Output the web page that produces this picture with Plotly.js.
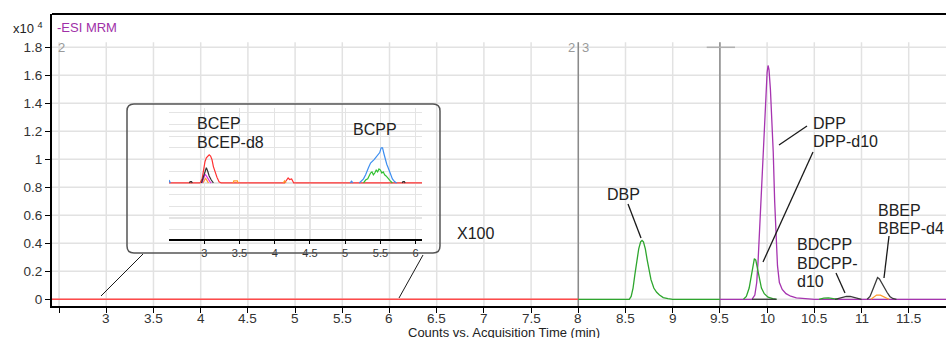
<!DOCTYPE html>
<html>
<head>
<meta charset="utf-8">
<script src="https://cdn.plot.ly/plotly-3.0.1.min.js"></script>
<style>html,body{margin:0;padding:0;background:#fff;}#chart{width:946px;height:338px;}</style>
</head>
<body>
<div id="chart"></div>
<script>
// ---------- main chromatogram data (time in min, counts x10^4) ----------
const redT = [2.425, 8.0];
const redY = [0, 0];

const greenT = [8.0, 8.54, 8.56, 8.58, 8.60, 8.62, 8.64, 8.66, 8.675, 8.69, 8.71, 8.73, 8.75, 8.77, 8.80, 8.83, 8.86, 8.90, 8.95, 9.0, 9.5, null,
  9.75, 9.78, 9.81, 9.83, 9.85, 9.865, 9.88, 9.90, 9.92, 9.94, 9.97, 10.01, 10.06, 10.10, null,
  10.55, 10.60, 10.65, 10.70, 10.75];
const greenY = [0, 0, 0.02, 0.08, 0.18, 0.28, 0.36, 0.41, 0.42, 0.41, 0.36, 0.28, 0.20, 0.14, 0.08, 0.05, 0.03, 0.012, 0.004, 0, 0, null,
  0, 0.02, 0.08, 0.16, 0.25, 0.29, 0.28, 0.22, 0.14, 0.08, 0.04, 0.015, 0.005, 0, null,
  0, 0.008, 0.01, 0.006, 0];

const purpleT = [9.5, 9.84, 9.87, 9.89, 9.905, 9.92, 9.94, 9.955, 9.97, 9.985, 10.0, 10.01, 10.02, 10.035, 10.05, 10.065, 10.08, 10.095, 10.11, 10.13, 10.16, 10.20, 10.25, 10.31, 10.40, 10.50, 11.895];
const purpleY = [0, 0, 0.03, 0.12, 0.28, 0.5, 0.8, 1.05, 1.25, 1.48, 1.62, 1.67, 1.64, 1.5, 1.32, 1.05, 0.7, 0.42, 0.24, 0.12, 0.07, 0.04, 0.022, 0.01, 0.005, 0, 0];

const blackT = [9.84, 10.10, null,
  10.72, 10.76, 10.80, 10.84, 10.88, 10.92, 10.96, 11.0, null,
  11.06, 11.09, 11.12, 11.15, 11.17, 11.19, 11.21, 11.24, 11.27, 11.30, 11.33, 11.37];
const blackY = [0, 0, null,
  0, 0.008, 0.015, 0.02, 0.02, 0.012, 0.004, 0, null,
  0, 0.02, 0.07, 0.13, 0.155, 0.145, 0.12, 0.09, 0.05, 0.02, 0.006, 0];

const orangeT = [11.10, 11.13, 11.16, 11.20, 11.23, 11.26, 11.29];
const orangeY = [0, 0.015, 0.03, 0.03, 0.02, 0.006, 0];

// ---------- inset (x100) data ----------
const inRedT = [2.5, 2.94, 2.97, 2.99, 3.01, 3.03, 3.05, 3.07, 3.09, 3.11, 3.13, 3.15, 3.18, 3.21, 3.24, 4.14, 4.17, 4.19, 4.21, 4.24, 4.27, 6.09];
const inRedY = [0, 0, 3.5, 11, 18, 21.5, 23, 24, 23, 20, 14, 10, 5, 1, 0, 0, 3, 4.3, 3, 3.5, 0, 0];
const inBlackT = [2.79, 2.80, 2.82, 2.83, null, 2.96, 2.99, 3.01, 3.03, 3.05, 3.07, 3.10, 3.13, null, 5.81, 5.82, 5.84, 5.85];
const inBlackY = [0, 1.2, 1.2, 0, null, 0, 5, 10, 13, 10, 6, 2.5, 0, null, 0, 1.2, 1.2, 0];
const inMagT = [2.97, 2.99, 3.01, 3.03, 3.05, 3.08, 3.10];
const inMagY = [0, 3.5, 7.5, 6, 3.5, 1.2, 0];
const inOrangeT = [2.98, 3.00, 3.02, 3.04, 3.06, null, 3.41, 3.42, 3.47, 3.48, null, 4.12, 4.14, 4.16];
const inOrangeY = [0, 2.5, 4, 2, 0, null, 0, 1.8, 1.8, 0, null, 0, 1.8, 0];
const inBlueT = [2.5, 2.52, null, 5.07, 5.09, 5.11, null, 5.20, 5.23, 5.26, 5.29, 5.31, 5.33, 5.36, 5.38, 5.41, 5.43, 5.45, 5.47, 5.49, 5.51, 5.53, 5.55, 5.57, 5.59, 5.61, 5.63, 5.65, 5.67, 5.70, 5.73];
const inBlueY = [2.5, 0, null, 0, 1.5, 0, null, 0, 1.8, 3.5, 7, 11, 13, 17, 18, 20, 21.5, 23, 24, 26, 30, 30, 25, 19, 16, 13, 10, 7, 3.5, 1.2, 0];
const inGreenT = [5.26, 5.29, 5.32, 5.34, 5.36, 5.38, 5.40, 5.42, 5.44, 5.46, 5.48, 5.50, 5.52, 5.54, 5.56, 5.58, 5.61, 5.64, 5.67];
const inGreenY = [0, 2.5, 3.5, 6, 8.5, 9.5, 7, 8.5, 11, 9.5, 12, 11, 8.5, 9.5, 7, 6, 3.5, 1.8, 0];

// ---------- ticks ----------
const xTickVals = [2.5, 3, 3.5, 4, 4.5, 5, 5.5, 6, 6.5, 7, 7.5, 8, 8.5, 9, 9.5, 10, 10.5, 11, 11.5];
const xTickText = ['', '3', '3.5', '4', '4.5', '5', '5.5', '6', '6.5', '7', '7.5', '8', '8.5', '9', '9.5', '10', '10.5', '11', '11.5'];
const yTickVals = [0, 0.2, 0.4, 0.6, 0.8, 1.0, 1.2, 1.4, 1.6, 1.8];
const yTickText = ['0', '0.2', '0.4', '0.6', '0.8', '1', '1.2', '1.4', '1.6', '1.8'];
const inTickVals = [3, 3.5, 4, 4.5, 5, 5.5, 6];
const inTickText = ['3', '3.5', '4', '4.5', '5', '5.5', '6'];
const segmentBounds = [8.0, 9.5];

// ---------- layout helpers ----------
const W = 946, H = 338, ML = 52, MT = 14, MB = 32;
const PW = W - ML, PH = H - MT - MB;
const px = x => (x - ML) / PW;
const py = y => (H - MB - y) / PH;
const FONT = 'Liberation Sans, Arial, sans-serif';
const TXT = '#222';

const shapes = [];
const annotations = [];

// grid (vertical lines stop short of top frame)
xTickVals.forEach(v => shapes.push({type:'line', xref:'x', yref:'y', x0:v, x1:v, y0:-0.05, y1:1.836, line:{color:'#e2e2e2', width:1.5}, layer:'below'}));
yTickVals.forEach(v => shapes.push({type:'line', xref:'paper', yref:'y', x0:0, x1:1, y0:v, y1:v, line:{color:'#e2e2e2', width:1.5}, layer:'below'}));
// segment separators
segmentBounds.forEach(v => shapes.push({type:'line', xref:'x', yref:'y', x0:v, x1:v, y0:-0.05, y1:1.836, line:{color:'#8a8a8a', width:1.5}, layer:'below'}));
shapes.push({type:'line', xref:'x', yref:'y', x0:9.36, x1:9.66, y0:1.8, y1:1.8, line:{color:'#b0b0b0', width:1.5}, layer:'below'});
// top frame
shapes.push({type:'line', xref:'paper', yref:'paper', x0:0, x1:1, y0:1, y1:1, line:{color:'#000', width:2}});

function seg(x0, y0, x1, y1, w) {
  shapes.push({type:'line', xref:'paper', yref:'paper', x0:px(x0), y0:py(y0), x1:px(x1), y1:py(y1), line:{color:'#1a1a1a', width:w || 1.3}});
}
// inset rounded box
(function(){
  const x0=127, y0=104, x1=440, y1=253, r=7;
  const P = (a,b) => px(a).toFixed(5)+','+py(b).toFixed(5);
  const path = 'M'+P(x0+r,y0)+' L'+P(x1-r,y0)+' Q'+P(x1,y0)+' '+P(x1,y0+r)+' L'+P(x1,y1-r)+' Q'+P(x1,y1)+' '+P(x1-r,y1)+
    ' L'+P(x0+r,y1)+' Q'+P(x0,y1)+' '+P(x0,y1-r)+' L'+P(x0,y0+r)+' Q'+P(x0,y0)+' '+P(x0+r,y0)+' Z';
  shapes.push({type:'path', xref:'paper', yref:'paper', path:path, line:{color:'#555', width:1.5}});
})();
// connectors to inset
seg(101, 296, 143, 254, 1);
seg(399, 298, 423, 255, 1);
// leader lines
seg(628, 204, 641, 238);      // DBP
seg(807, 126, 779, 145);      // DPP
seg(813, 152, 763, 262);      // DPP-d10
seg(836, 273, 845, 293);      // BDCPP
seg(889, 236, 884, 278);      // BBEP

function label(text, x, y, opt) {
  annotations.push(Object.assign({text:text, xref:'paper', yref:'paper', x:px(x), y:py(y), xanchor:'left', yanchor:'middle', showarrow:false,
    font:{family:FONT, size:16, color:TXT}}, opt || {}));
}
label('DBP', 605, 195);
label('DPP', 811, 123);
label('DPP-d10', 811, 141);
label('BDCPP', 795, 245);
label('BDCPP-', 795, 263);
label('d10', 795, 281);
label('BBEP', 876, 211);
label('BBEP-d4', 876, 229);
label('BCEP', 195, 124);
label('BCEP-d8', 195, 142);
label('BCPP', 351, 129);
label('X100', 455, 233);
label('-ESI MRM', 55, 28, {font:{family:FONT, size:13, color:'#a030a8'}});
label('x10 <sup>4</sup>', 11, 28, {font:{family:FONT, size:13, color:TXT}});
label('2', 56, 47, {font:{family:FONT, size:13, color:'#9a9a9a'}});
label('2', 566, 47, {font:{family:FONT, size:13, color:'#9a9a9a'}});
label('3', 580, 47, {font:{family:FONT, size:13, color:'#9a9a9a'}});
label('Counts vs. Acquisition Time (min)', 504, 332, {xanchor:'center', font:{family:FONT, size:13, color:TXT}});

// x tick labels placed close to the axis, positioned by the x scale
xTickVals.forEach((v, i) => {
  if (xTickText[i] === '') return;
  annotations.push({text:xTickText[i], xref:'x', yref:'paper', x:v, y:py(318), xanchor:'center', yanchor:'middle',
    showarrow:false, font:{family:FONT, size:13.5, color:'#333'}});
});

const lw = 1.3;
const traces = [
  {x:redT, y:redY, mode:'lines', line:{color:'#ff4a4a', width:1.6}},
  {x:purpleT, y:purpleY, mode:'lines', line:{color:'#a634b0', width:lw}},
  {x:greenT, y:greenY, mode:'lines', line:{color:'#2ea62e', width:lw}, connectgaps:false},
  {x:blackT, y:blackY, mode:'lines', line:{color:'#3a3a3a', width:lw}, connectgaps:false},
  {x:orangeT, y:orangeY, mode:'lines', line:{color:'#ff9a28', width:lw}},
  {x:inRedT, y:inRedY, xaxis:'x2', yaxis:'y2', mode:'lines', line:{color:'#ff3030', width:1.2}},
  {x:inOrangeT, y:inOrangeY, xaxis:'x2', yaxis:'y2', mode:'lines', line:{color:'#ff9a28', width:1.2}},
  {x:inMagT, y:inMagY, xaxis:'x2', yaxis:'y2', mode:'lines', line:{color:'#e030e0', width:1.2}},
  {x:inBlackT, y:inBlackY, xaxis:'x2', yaxis:'y2', mode:'lines', line:{color:'#333', width:1.2}},
  {x:inBlueT, y:inBlueY, xaxis:'x2', yaxis:'y2', mode:'lines', line:{color:'#3d8ef0', width:1.2}},
  {x:inGreenT, y:inGreenY, xaxis:'x2', yaxis:'y2', mode:'lines', line:{color:'#2ec02e', width:1.2}}
];

const layout = {
  width:W, height:H,
  margin:{l:ML, r:0, t:MT, b:MB, pad:0},
  paper_bgcolor:'#fff', plot_bgcolor:'rgba(0,0,0,0)',
  showlegend:false,
  font:{family:FONT, size:13, color:TXT},
  xaxis:{range:[2.425, 11.895], tickvals:xTickVals, showticklabels:false, showgrid:false, zeroline:false,
    showline:true, linecolor:'#000', linewidth:2, ticks:'outside', ticklen:5, tickcolor:'#000', tickwidth:1},
  yaxis:{range:[-0.048, 2.038], tickvals:yTickVals, ticktext:yTickText, showgrid:false, zeroline:false,
    showline:true, linecolor:'#000', linewidth:2, ticks:'outside', ticklen:5, tickcolor:'#000', tickwidth:1,
    tickfont:{family:FONT, size:13.5, color:'#333'}},
  xaxis2:{domain:[px(169), px(422)], anchor:'y2', range:[2.5, 6.09], tickvals:inTickVals, ticktext:inTickText,
    showgrid:true, gridcolor:'#e4e4e4', gridwidth:1.2, zeroline:false, showline:true, linecolor:'#000', linewidth:2,
    ticks:'outside', ticklen:3, tickcolor:'#000', tickfont:{family:FONT, size:11, color:'#333'}},
  yaxis2:{domain:[py(239), py(108)], anchor:'x2', range:[-47.9, 64.1], dtick:10, tick0:0, showgrid:true,
    gridcolor:'#e4e4e4', gridwidth:1.2, zeroline:false, showline:false, showticklabels:false, ticks:''},
  shapes:shapes,
  annotations:annotations
};

Plotly.newPlot('chart', traces, layout, {staticPlot:true, displayModeBar:false});
</script>
</body>
</html>
